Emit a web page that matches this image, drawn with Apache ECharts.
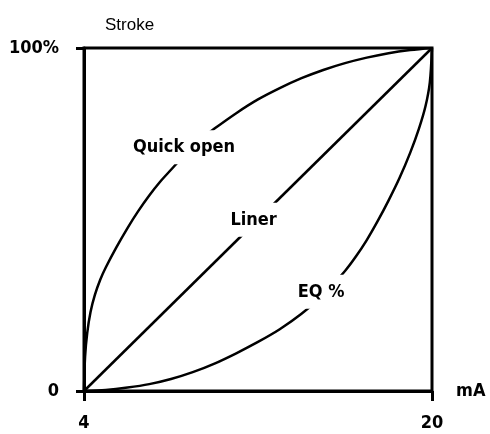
<!DOCTYPE html>
<html>
<head>
<meta charset="utf-8">
<style>
  html, body { margin: 0; padding: 0; background: #fff; }
  #chart { width: 490px; height: 434px; }
</style>
<script src="https://cdn.jsdelivr.net/npm/echarts@6/dist/echarts.min.js"></script>
</head>
<body>
<div id="chart"></div>
<script>
// Valve characteristic: stroke (%) against control signal (mA)
const quickOpen = [
  [4, 0], [4.05, 10], [4.15, 17], [4.3, 23], [4.5, 28], [4.75, 32.5], [5, 36],
  [5.5, 42], [6, 47.5], [6.5, 52.5], [7, 57], [7.5, 61], [8, 64.5], [8.5, 68],
  [9, 71], [9.5, 74], [10, 76.5], [11, 81], [12, 85], [13, 88.3], [14, 91.2],
  [15, 93.6], [16, 95.6], [17, 97.2], [18, 98.5], [19, 99.4], [20, 100]
];
const linear = [[4, 0], [20, 100]];
const eqPercent = [
  [4, 0], [5, 0.3], [6, 1], [7, 2], [8, 3.5], [9, 5.5], [10, 8], [11, 11],
  [12, 14.3], [13, 18], [14, 22.5], [15, 28], [16, 35], [16.5, 39.2], [17, 44],
  [17.5, 49.5], [18, 55.5], [18.5, 62], [19, 69.5], [19.4, 76.5], [19.7, 83],
  [19.9, 90], [20, 100]
];
const curveLabels = [
  [8.6, 71.1, 'Quick open'],
  [11.8, 49.9, 'Liner'],
  [14.9, 28.9, 'EQ %']
];
const xTicks = [4, 20];
const yTicks = [0, 100];

const labelFont = '"DejaVu Sans Condensed", "Liberation Sans Narrow", "Liberation Sans", Arial, sans-serif';

const chart = echarts.init(document.getElementById('chart'), null, { renderer: 'canvas' });

const curveStyle = { color: '#000', width: 2.5 };

chart.setOption({
  animation: false,
  backgroundColor: '#fff',
  grid: {
    left: 84, right: 58, top: 48, bottom: 43,
    show: true, borderColor: '#000', borderWidth: 3
  },
  title: {
    text: 'Stroke',
    left: 100, top: 12,
    textStyle: { fontFamily: 'Liberation Sans, Arial, sans-serif', fontSize: 17, fontWeight: 'normal', color: '#000' }
  },
  xAxis: {
    type: 'value', min: 4, max: 20,
    name: 'mA', nameLocation: 'end', nameGap: 24,
    nameTextStyle: { fontFamily: labelFont, fontSize: 18, fontWeight: 'bold', color: '#000', verticalAlign: 'middle', padding: [14, 0, 0, 0] },
    axisLine: { show: true, onZero: false, lineStyle: { color: '#000', width: 3 } },
    axisTick: { show: true, customValues: xTicks, length: 10, inside: false, lineStyle: { color: '#000', width: 3 } },
    axisLabel: {
      customValues: xTicks, margin: 23, color: '#000',
      fontFamily: labelFont, fontSize: 18, fontWeight: 'bold'
    },
    splitLine: { show: false }
  },
  yAxis: {
    type: 'value', min: 0, max: 100,
    axisLine: { show: true, onZero: false, lineStyle: { color: '#000', width: 3 } },
    axisTick: { show: true, customValues: yTicks, length: 8, lineStyle: { color: '#000', width: 3 } },
    axisLabel: {
      customValues: yTicks, margin: 25, color: '#000',
      fontFamily: labelFont, fontSize: 18, fontWeight: 'bold',
      formatter: v => (v === 100 ? '100%' : String(v))
    },
    splitLine: { show: false }
  },
  series: [
    { name: 'Quick open', type: 'line', data: quickOpen, smooth: 0.3, symbol: 'none', lineStyle: curveStyle, z: 2 },
    { name: 'Liner', type: 'line', data: linear, symbol: 'none', lineStyle: curveStyle, z: 2 },
    { name: 'EQ %', type: 'line', data: eqPercent, smooth: 0.3, symbol: 'none', lineStyle: curveStyle, z: 2 },
    {
      type: 'scatter', z: 5, symbolSize: 0, silent: true,
      itemStyle: { opacity: 1 },
      data: curveLabels.map(d => ({ value: [d[0], d[1]], name: d[2] })),
      label: {
        show: true, position: 'inside', formatter: p => p.name, opacity: 1,
        color: '#000', fontFamily: labelFont, fontSize: 18, fontWeight: 'bold',
        backgroundColor: '#fff', padding: [8, 4]
      }
    }
  ]
});
</script>
</body>
</html>
